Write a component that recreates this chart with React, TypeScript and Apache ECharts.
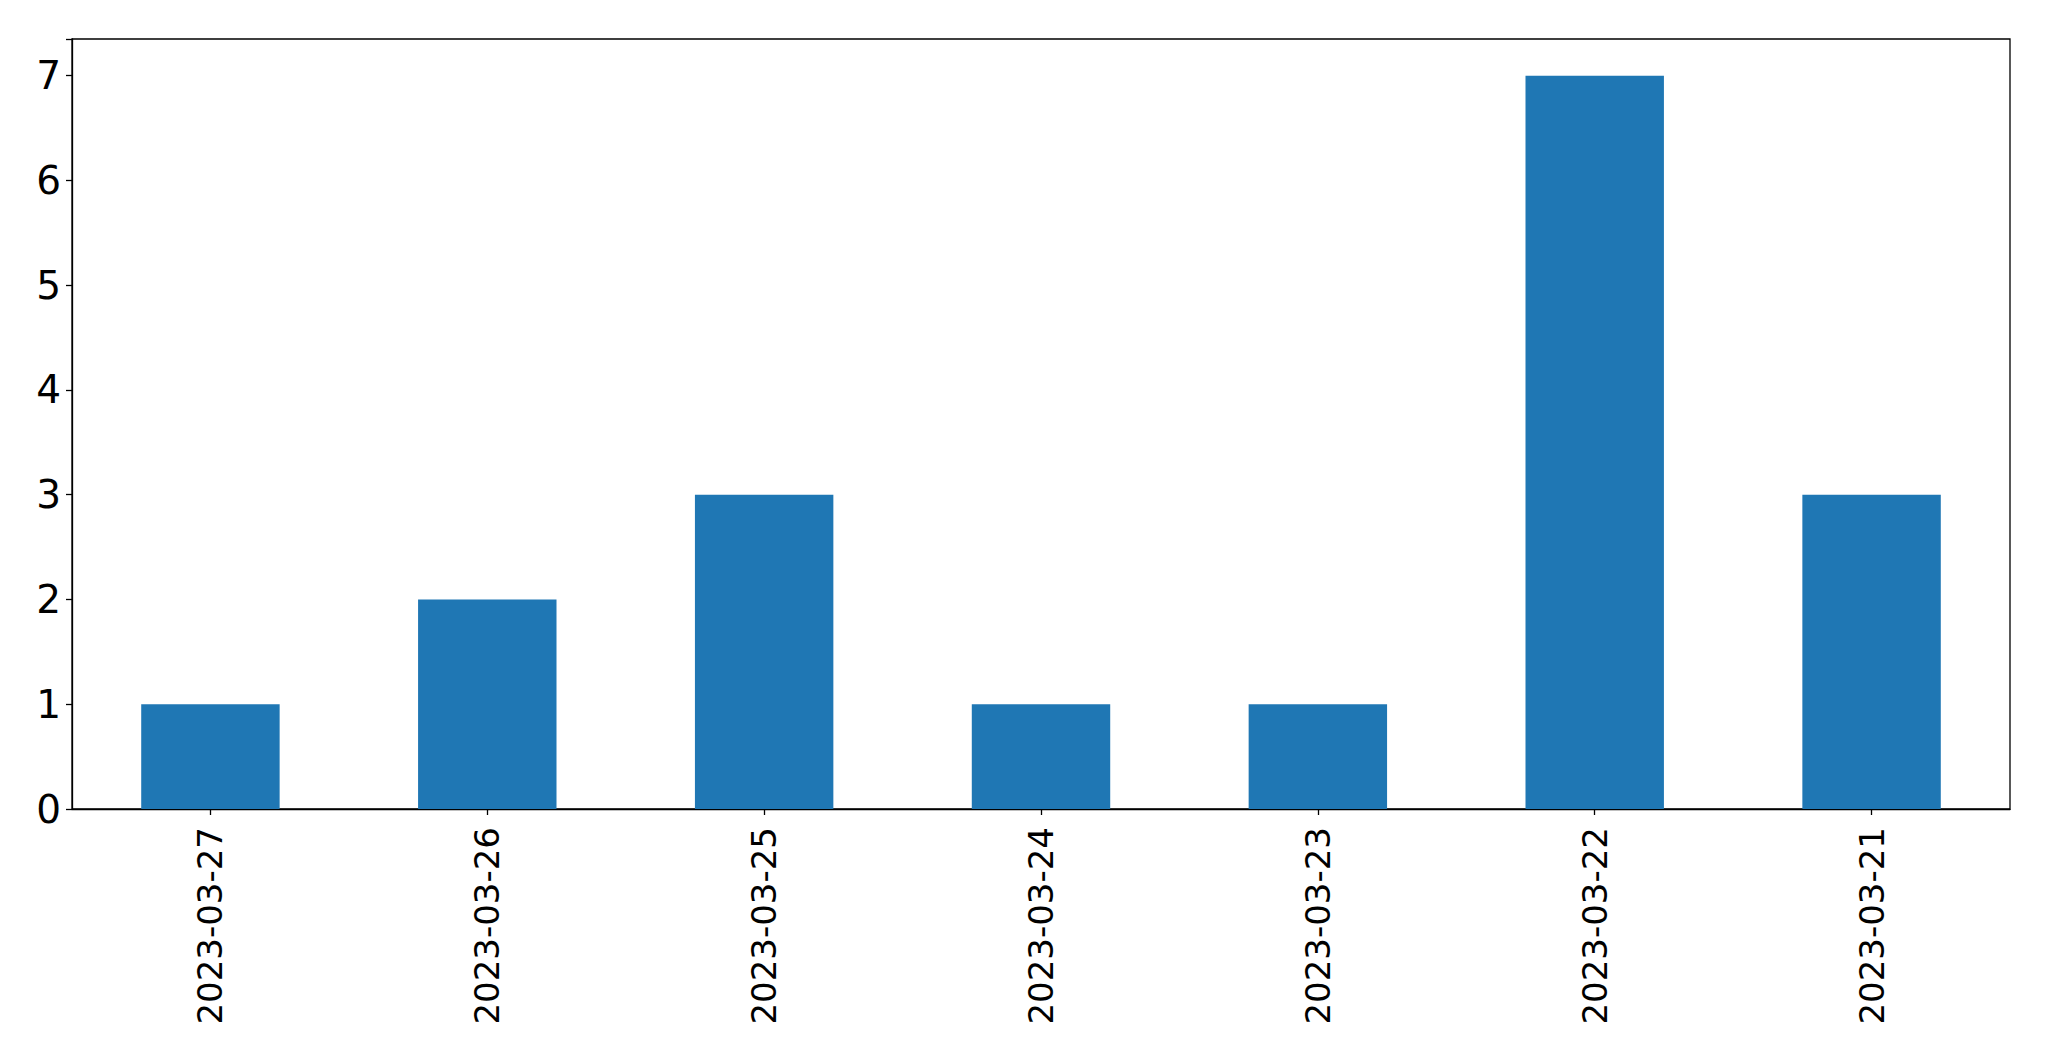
import React, { useEffect, useRef } from "react";
import * as echarts from "echarts";

const categories = ["2023-03-27", "2023-03-26", "2023-03-25", "2023-03-24", "2023-03-23", "2023-03-22", "2023-03-21"];
const counts = [1, 2, 3, 1, 1, 7, 3];
const yMax = 7.35;

export default function App() {
  const ref = useRef<HTMLDivElement>(null);
  useEffect(() => {
    document.body.style.margin = "0";
    const chart = echarts.init(ref.current!, null, { renderer: "svg" });
    const font = "DejaVu Sans";
    chart.setOption({
      animation: false,
      backgroundColor: "#ffffff",
      grid: {
        left: 72,
        right: 39,
        top: 39,
        bottom: 252,
        show: true,
        borderColor: "#000000",
        borderWidth: 1.3,
        containLabel: false,
      },
      xAxis: {
        type: "category",
        data: categories,
        boundaryGap: true,
        axisLine: { show: true, lineStyle: { color: "#000000", width: 1.3 } },
        axisTick: { show: true, alignWithLabel: true, length: 6, lineStyle: { color: "#000000", width: 1.3 } },
        axisLabel: {
          rotate: 90,
          interval: 0,
          margin: 18,
          fontSize: 34,
          fontFamily: font,
          color: "#000000",
        },
        splitLine: { show: false },
      },
      yAxis: {
        type: "value",
        min: 0,
        max: yMax,
        interval: 1,
        axisLine: { show: true, lineStyle: { color: "#000000", width: 1.3 } },
        axisTick: { show: true, length: 6, lineStyle: { color: "#000000", width: 1.3 } },
        axisLabel: {
          margin: 11,
          fontSize: 39,
          fontFamily: font,
          color: "#000000",
          formatter: (v: number) => (Number.isInteger(v) ? String(v) : ""),
        },
        splitLine: { show: false },
      },
      series: [
        {
          type: "bar",
          data: counts,
          barWidth: "50%",
          itemStyle: { color: "#1f77b4" },
        },
      ],
    });
    return () => chart.dispose();
  }, []);
  return <div ref={ref} style={{ position: "absolute", left: 0, top: 0, width: 2049, height: 1061 }} />;
}
